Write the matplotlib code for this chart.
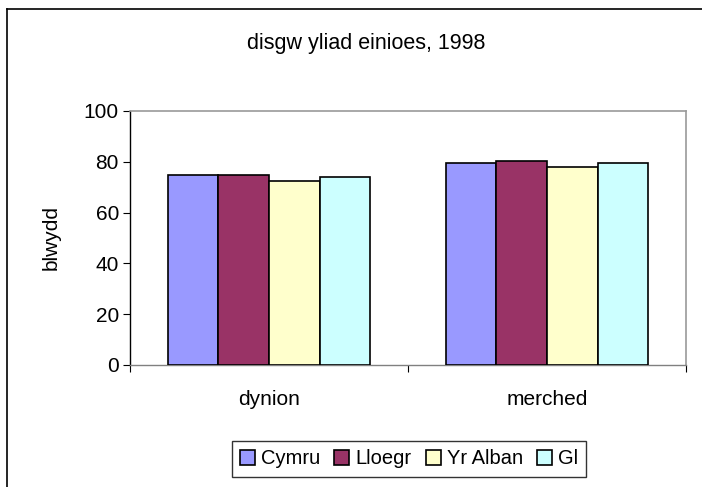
import matplotlib.pyplot as plt
from matplotlib.lines import Line2D
import numpy as np

plt.rcParams['font.family'] = ['Liberation Sans', 'DejaVu Sans']

# data
categories = ["dynion", "merched"]
series = ["Cymru", "Lloegr", "Yr Alban", "Gl"]
cymru = [74.8, 79.5]
lloegr = [74.8, 80.3]
yr_alban = [72.4, 77.9]
gl = [74.1, 79.6]
colors = ["#9999FF", "#993366", "#FFFFCC", "#CCFFFF"]

fig = plt.figure(figsize=(7.02, 4.87), dpi=100)
ax = fig.add_axes([130/702, 1-365/487, (686-130)/702, (365-111)/487])

x = np.arange(len(categories))
w = 0.182
for i, (vals, col, name) in enumerate(zip([cymru, lloegr, yr_alban, gl], colors, series)):
    ax.bar(x + (i - 1.5) * w, vals, width=w, color=col, edgecolor="black",
           linewidth=1.2, label=name, zorder=3)

ax.set_xlim(-0.5, 1.5)
ax.set_ylim(0, 100)
ax.set_yticks(range(0, 101, 20))
ax.tick_params(axis='y', labelsize=15, length=5, direction='out', color='black', pad=3)

# category labels without ticks, ticks at boundaries
ax.set_xticks([-0.5, 0.5, 1.5])
ax.set_xticklabels([])
ax.set_xticks(x, minor=True)
ax.set_xticklabels(categories, minor=True, fontsize=15)
ax.tick_params(axis='x', which='minor', length=0, pad=18)
ax.tick_params(axis='x', which='major', length=5, color='black')

for s in ['top', 'right']:
    ax.spines[s].set_color('#999999')
    ax.spines[s].set_linewidth(1.2)
ax.spines['left'].set_color('black')
ax.spines['bottom'].set_color('#808080')
for s in ['left', 'bottom']:
    ax.spines[s].set_linewidth(1.0)

ax.set_ylabel("blwydd", fontsize=15)
ax.yaxis.set_label_coords(-0.125, 0.5)

fig.text(0.522, 1 - 43/487, "disgw yliad einioes, 1998", ha='center', va='center', fontsize=15.5)

leg = fig.legend(loc='center', bbox_to_anchor=(409/702, 1 - 459/487), ncol=4,
                 fontsize=14.5, frameon=True, fancybox=False, handlelength=0.75,
                 handleheight=0.75, handletextpad=0.3, columnspacing=0.7,
                 borderpad=0.4, borderaxespad=0)
leg.get_frame().set_edgecolor('black')
leg.get_frame().set_linewidth(1.0)

# outer chart border (left and top visible)
fig.add_artist(Line2D([7/702, 7/702], [0, 1 - 9/487], color='black', linewidth=1.2))
fig.add_artist(Line2D([7/702, 1], [1 - 9/487, 1 - 9/487], color='black', linewidth=1.2))

fig.savefig("out.png", dpi=100)
